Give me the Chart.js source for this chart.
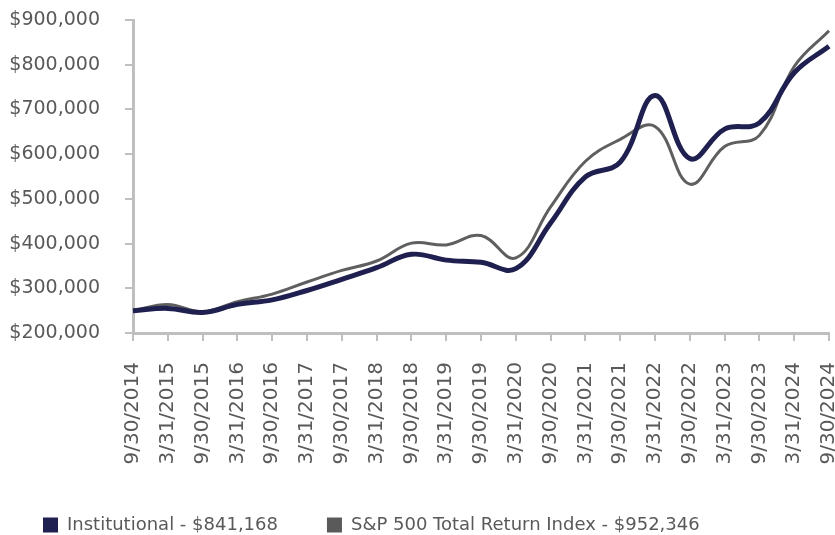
<!DOCTYPE html>
<html>
<head>
<meta charset="utf-8">
<script src="https://cdn.jsdelivr.net/npm/chart.js@4"></script>
<style>
  html, body { margin: 0; padding: 0; background: #fff; overflow: hidden; }
  #wrap { position: relative; width: 835px; height: 535px; }
</style>
</head>
<body>
<div id="wrap"><canvas id="growthChart"></canvas></div>
<script>
// semiannual dates
var dates = ["9/30/2014", "3/31/2015", "9/30/2015", "3/31/2016", "9/30/2016", "3/31/2017",
  "9/30/2017", "3/31/2018", "9/30/2018", "3/31/2019", "9/30/2019", "3/31/2020",
  "9/30/2020", "3/31/2021", "9/30/2021", "3/31/2022", "9/30/2022", "3/31/2023",
  "9/30/2023", "3/31/2024", "9/30/2024"];

var institutional = [250000, 255000, 246000, 264000, 274000, 295000, 320000, 346000, 376000, 363000,
  358000, 344000, 446000, 549000, 582000, 731000, 590000, 656000, 670000, 782000, 841168];

var sp500 = [250000, 264000, 248000, 270000, 287000, 314000, 340000, 361000, 401000, 397000,
  418000, 368000, 482000, 584000, 633000, 662000, 533000, 617000, 642000, 796000, 876000];

var seriesNames = ["Institutional - $841,168", "S&P 500 Total Return Index - $952,346"];

var yTicks = { min: 200000, max: 900000, step: 100000 };

Chart.defaults.font.family = "'DejaVu Sans', sans-serif";
Chart.defaults.color = "#595959";

// nudge the legend so the first box lines up with the reference
var legendShift = {
  id: "legendShift",
  afterLayout: function (chart) {
    chart.legend.left = -6;
  }
};

var ctx = document.getElementById("growthChart").getContext("2d");

new Chart(ctx, {
  type: "line",
  data: {
    labels: dates,
    datasets: [
      {
        label: seriesNames[0],
        data: institutional,
        borderColor: "#1f2050",
        backgroundColor: "#1f2050",
        borderWidth: 5,
        pointRadius: 0,
        tension: 0.4,
        fill: false
      },
      {
        label: seriesNames[1],
        data: sp500,
        borderColor: "#5f5f5f",
        backgroundColor: "#5a5a5a",
        borderWidth: 3,
        pointRadius: 0,
        tension: 0.4,
        fill: false
      }
    ]
  },
  options: {
    responsive: true,
    maintainAspectRatio: false,
    animation: false,
    layout: {
      padding: { left: 10, top: 20, right: 0, bottom: -9 }
    },
    scales: {
      x: {
        grid: {
          drawOnChartArea: false,
          drawTicks: true,
          tickLength: 8,
          color: "#bfbfbf",
          lineWidth: 2
        },
        border: { display: true, color: "#bfbfbf", width: 3 },
        ticks: {
          autoSkip: false,
          minRotation: 90,
          maxRotation: 90,
          padding: 21,
          color: "#595959",
          font: { size: 20 }
        },
        afterFit: function (scale) {
          scale.height = 134;
          scale.paddingLeft = 0;
          scale.paddingRight = 6;
        }
      },
      y: {
        min: yTicks.min,
        max: yTicks.max,
        grid: {
          drawOnChartArea: false,
          drawTicks: true,
          tickLength: 8,
          color: "#bfbfbf",
          lineWidth: 2
        },
        border: { display: true, color: "#bfbfbf", width: 3 },
        ticks: {
          stepSize: yTicks.step,
          padding: 25,
          color: "#595959",
          font: { size: 19 },
          callback: function (v) {
            return "$" + v.toLocaleString("en-US");
          }
        },
        afterFit: function (scale) {
          scale.width = 123;
          scale.paddingTop = 0;
          scale.paddingBottom = 0;
        }
      }
    },
    plugins: {
      legend: {
        position: "bottom",
        align: "start",
        labels: {
          boxWidth: 15,
          boxHeight: 15,
          padding: 49,
          color: "#595959",
          font: { size: 18 },
          generateLabels: function (chart) {
            return Chart.defaults.plugins.legend.labels.generateLabels(chart).map(function (item) {
              item.lineWidth = 0;
              return item;
            });
          }
        }
      },
      tooltip: { enabled: false }
    }
  },
  plugins: [legendShift]
});
</script>
</body>
</html>
